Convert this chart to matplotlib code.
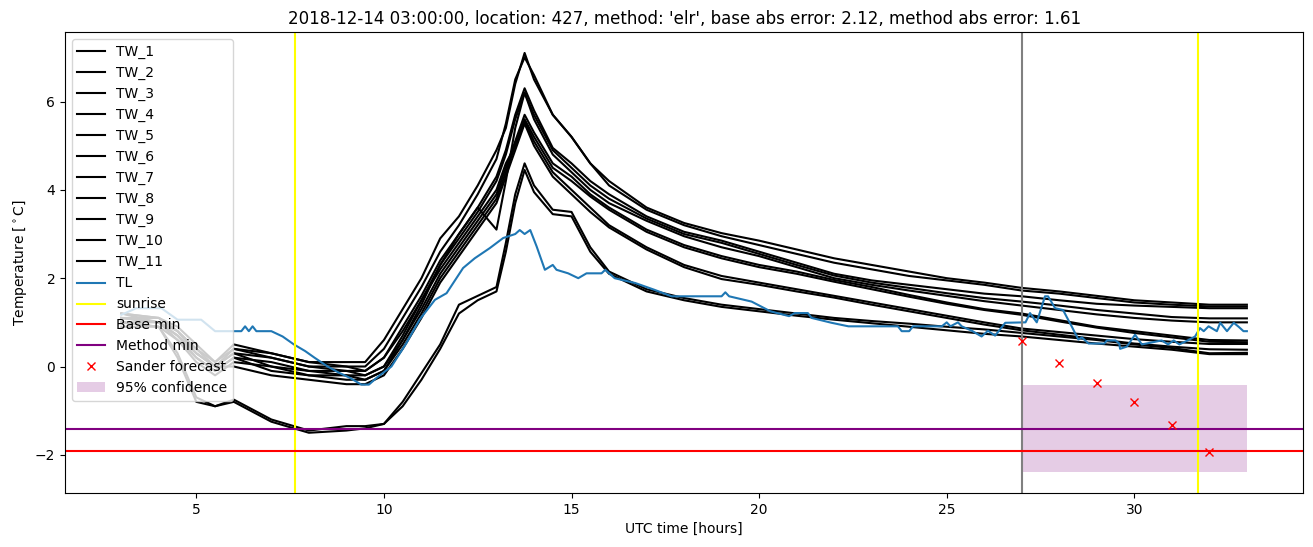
import numpy as np
import matplotlib
matplotlib.use("Agg")
import matplotlib.pyplot as plt

# hours (UTC) for the TW sensors
hours = [3, 4, 4.5, 5, 5.5, 6, 7, 8, 9, 9.5,
         10, 10.5, 11, 11.5, 12, 12.5, 13, 13.25, 13.5, 13.75,
         14, 14.5, 15, 15.5, 16, 17, 18, 19, 20, 21,
         22, 23, 24, 25, 26, 27, 28, 29, 30, 31, 32, 33]

tw_1 = [1.2, 1.1, 0.9, 0.5, 0.1, 0.5, 0.3, 0.1, 0.1, 0.1,
        0.6, 1.3, 2.0, 2.9, 3.4, 4.1, 4.9, 5.4, 6.4, 7.1,
        6.5, 5.7, 5.2, 4.6, 4.2, 3.6, 3.25, 3.02, 2.85, 2.65,
        2.45, 2.3, 2.15, 2.0, 1.9, 1.78, 1.7, 1.6, 1.5, 1.45, 1.4, 1.4]
tw_2 = [1.1, 1.1, 0.8, 0.4, 0.0, 0.4, 0.3, 0.1, 0.0, 0.0,
        0.4, 1.1, 1.8, 2.6, 3.2, 3.9, 4.7, 5.5, 6.5, 7.0,
        6.6, 5.7, 5.2, 4.6, 4.1, 3.55, 3.2, 2.95, 2.75, 2.55,
        2.35, 2.2, 2.05, 1.95, 1.85, 1.72, 1.65, 1.55, 1.45, 1.4, 1.36, 1.36]
tw_3 = [1.2, 1.0, 0.8, 0.3, 0.0, 0.3, 0.2, 0.0, 0.0, -0.1,
        0.2, 0.9, 1.6, 2.4, 3.0, 3.6, 4.3, 4.9, 5.7, 6.3,
        5.8, 4.95, 4.6, 4.2, 3.9, 3.4, 3.05, 2.85, 2.6, 2.35,
        2.1, 1.95, 1.85, 1.75, 1.65, 1.59, 1.5, 1.42, 1.38, 1.35, 1.32, 1.32]
tw_4 = [1.1, 1.0, 0.7, 0.2, -0.1, 0.2, 0.1, -0.1, -0.1, -0.2,
        0.0, 0.7, 1.5, 2.3, 2.9, 3.5, 4.2, 4.8, 5.6, 6.2,
        5.7, 4.9, 4.5, 4.1, 3.8, 3.35, 3.0, 2.8, 2.55, 2.3,
        2.06, 1.9, 1.78, 1.66, 1.55, 1.47, 1.38, 1.28, 1.2, 1.12, 1.09, 1.09]
tw_5 = [1.0, 1.0, 0.6, 0.1, -0.2, 0.1, 0.0, -0.2, -0.2, -0.3,
        -0.1, 0.6, 1.4, 2.3, 3.0, 3.6, 3.1, 4.2, 5.4, 6.2,
        5.6, 4.8, 4.4, 4.0, 3.7, 3.3, 2.95, 2.7, 2.5, 2.25,
        2.0, 1.85, 1.72, 1.6, 1.48, 1.38, 1.28, 1.18, 1.1, 1.04, 1.0, 1.0]
tw_6 = [1.1, 1.0, 0.7, 0.3, 0.0, 0.3, 0.0, -0.1, -0.2, -0.2,
        0.0, 0.6, 1.3, 2.1, 2.7, 3.3, 3.9, 4.5, 5.1, 5.7,
        5.3, 4.6, 4.3, 3.9, 3.6, 3.1, 2.75, 2.5, 2.3, 2.15,
        1.96, 1.8, 1.62, 1.45, 1.3, 1.2, 1.05, 0.9, 0.8, 0.7, 0.6, 0.59]
tw_7 = [1.0, 0.9, 0.6, 0.2, -0.1, 0.2, -0.1, -0.2, -0.3, -0.3,
        -0.1, 0.5, 1.2, 2.0, 2.6, 3.2, 3.8, 4.4, 5.0, 5.6,
        5.2, 4.5, 4.2, 3.85, 3.55, 3.05, 2.7, 2.45, 2.25, 2.1,
        1.92, 1.75, 1.58, 1.42, 1.28, 1.17, 1.02, 0.88, 0.76, 0.66, 0.56, 0.55]
tw_8 = [1.2, 1.1, 0.8, 0.4, 0.1, 0.4, 0.2, 0.0, -0.1, -0.1,
        0.2, 0.8, 1.5, 2.2, 2.8, 3.4, 4.0, 4.6, 5.0, 5.55,
        5.1, 4.4, 4.0, 3.6, 3.2, 2.7, 2.3, 2.05, 1.9, 1.75,
        1.6, 1.45, 1.3, 1.15, 1.0, 0.86, 0.78, 0.7, 0.62, 0.56, 0.51, 0.51]
tw_9 = [1.1, 1.0, 0.7, 0.3, 0.0, 0.0, -0.2, -0.3, -0.4, -0.4,
        -0.2, 0.4, 1.1, 1.9, 2.5, 3.1, 3.7, 4.3, 4.9, 5.5,
        5.0, 4.3, 3.9, 3.5, 3.15, 2.65, 2.25, 1.98, 1.85, 1.7,
        1.56, 1.4, 1.25, 1.1, 0.95, 0.82, 0.72, 0.62, 0.52, 0.45, 0.39, 0.38]
tw_10 = [1.0, 0.9, 0.3, -0.7, -0.9, -0.75, -1.2, -1.45, -1.35, -1.35,
         -1.3, -0.8, -0.15, 0.5, 1.4, 1.6, 1.8, 2.8, 3.9, 4.6,
         4.1, 3.55, 3.5, 2.7, 2.15, 1.75, 1.55, 1.4, 1.3, 1.2,
         1.1, 1.03, 0.97, 0.9, 0.84, 0.76, 0.68, 0.6, 0.5, 0.42, 0.3, 0.31]
tw_11 = [0.9, 0.9, 0.2, -0.8, -0.9, -0.8, -1.25, -1.5, -1.45, -1.4,
         -1.3, -0.9, -0.3, 0.4, 1.2, 1.5, 1.7, 2.6, 3.7, 4.45,
         3.95, 3.45, 3.4, 2.6, 2.1, 1.7, 1.5, 1.35, 1.25, 1.15,
         1.06, 0.98, 0.9, 0.82, 0.74, 0.68, 0.6, 0.52, 0.45, 0.38, 0.28, 0.28]

tw_all = [tw_1, tw_2, tw_3, tw_4, tw_5, tw_6, tw_7, tw_8, tw_9, tw_10, tw_11]

# air temperature TL
tl_hours = [3.0, 3.4, 4.07, 4.5, 5.13, 5.5, 6.2, 6.3, 6.4, 6.5, 6.6, 7.0, 7.3, 7.6, 7.9,
            8.15, 8.5, 8.8, 9.1, 9.4, 9.6, 9.8, 10.2, 10.6, 10.95, 11.36, 11.67, 12.11,
            12.42, 12.82, 13.18, 13.5, 13.62, 13.75, 13.9, 14.07, 14.29, 14.5, 14.6,
            14.91, 15.18, 15.4, 15.8, 15.9, 16.15, 16.7, 17.2, 17.67, 19.0, 19.1, 19.2,
            19.8, 20.3, 20.8, 20.95, 21.3, 21.4, 21.93, 22.38, 23.7, 23.8, 24.0, 24.1,
            24.87, 25.0, 25.1, 25.3, 25.4, 25.67, 25.93, 26.1, 26.29, 26.56, 27.1, 27.22,
            27.4, 27.62, 27.7, 27.89, 28.1, 28.33, 28.51, 28.6, 28.78, 29.2, 29.27, 29.5,
            29.6, 29.62, 29.8, 30.02, 30.2, 30.73, 30.9, 31.05, 31.2, 31.42, 31.62, 31.75,
            31.85, 31.98, 32.2, 32.29, 32.47, 32.65, 32.78, 32.91, 33.0]
tl = [1.17, 1.32, 1.32, 1.06, 1.06, 0.8, 0.8, 0.91, 0.8, 0.91, 0.8, 0.8, 0.68, 0.5, 0.35,
      0.2, 0.0, -0.14, -0.26, -0.41, -0.41, -0.26, 0.0, 0.53, 1.06, 1.51, 1.66, 2.23,
      2.45, 2.68, 2.91, 3.0, 3.09, 3.0, 3.09, 2.72, 2.19, 2.3, 2.19,
      2.11, 2.0, 2.11, 2.11, 2.19, 2.0, 1.89, 1.74, 1.59, 1.59, 1.68, 1.59,
      1.47, 1.25, 1.14, 1.21, 1.21, 1.1, 0.99, 0.91, 0.91, 0.8, 0.8, 0.91,
      0.91, 1.0, 0.91, 1.0, 0.91, 0.81, 0.68, 0.81, 0.7, 0.99, 1.0, 1.21,
      1.0, 1.59, 1.59, 1.32, 1.28, 0.91, 0.61, 0.66, 0.52, 0.52, 0.59, 0.59,
      0.52, 0.4, 0.45, 0.72, 0.5, 0.59, 0.5, 0.59, 0.5, 0.59, 0.68, 0.87,
      0.8, 0.91, 0.8, 0.99, 0.8, 0.99, 0.9, 0.8, 0.8]

sunrise = [7.63, 31.69]
forecast_start = 27
base_min = -1.92
method_min = -1.41
sander_hours = [27, 28, 29, 30, 31, 32]
sander = [0.57, 0.08, -0.37, -0.80, -1.33, -1.93]
conf_hours = [27, 33]
conf_lo = [-2.39, -2.39]
conf_hi = [-0.43, -0.43]

fig = plt.figure(figsize=(13.13, 5.47), dpi=100)
ax = fig.add_axes([0.0495, 0.0987, 0.943, 0.8428])

for i, tw in enumerate(tw_all):
    ax.plot(hours, tw, color="black", label="TW_%d" % (i + 1))
ax.plot(tl_hours, tl, color="C0", label="TL")
for j, s in enumerate(sunrise):
    ax.axvline(s, color="yellow", label="sunrise" if j == 0 else None)
ax.axvline(forecast_start, color="gray")
ax.axhline(base_min, color="red", label="Base min")
ax.axhline(method_min, color="purple", label="Method min")
ax.plot(sander_hours, sander, "x", color="red", label="Sander forecast")
ax.fill_between(conf_hours, conf_lo, conf_hi, color="purple", alpha=0.2,
                linewidth=0, label="95% confidence")

ax.set_title("2018-12-14 03:00:00, location: 427, method: 'elr', "
             "base abs error: 2.12, method abs error: 1.61")
ax.set_xlabel("UTC time [hours]")
ax.set_ylabel(r"Temperature [$^\circ$C]")
ax.legend(loc="upper left")

fig.savefig("out.png", dpi=100)
